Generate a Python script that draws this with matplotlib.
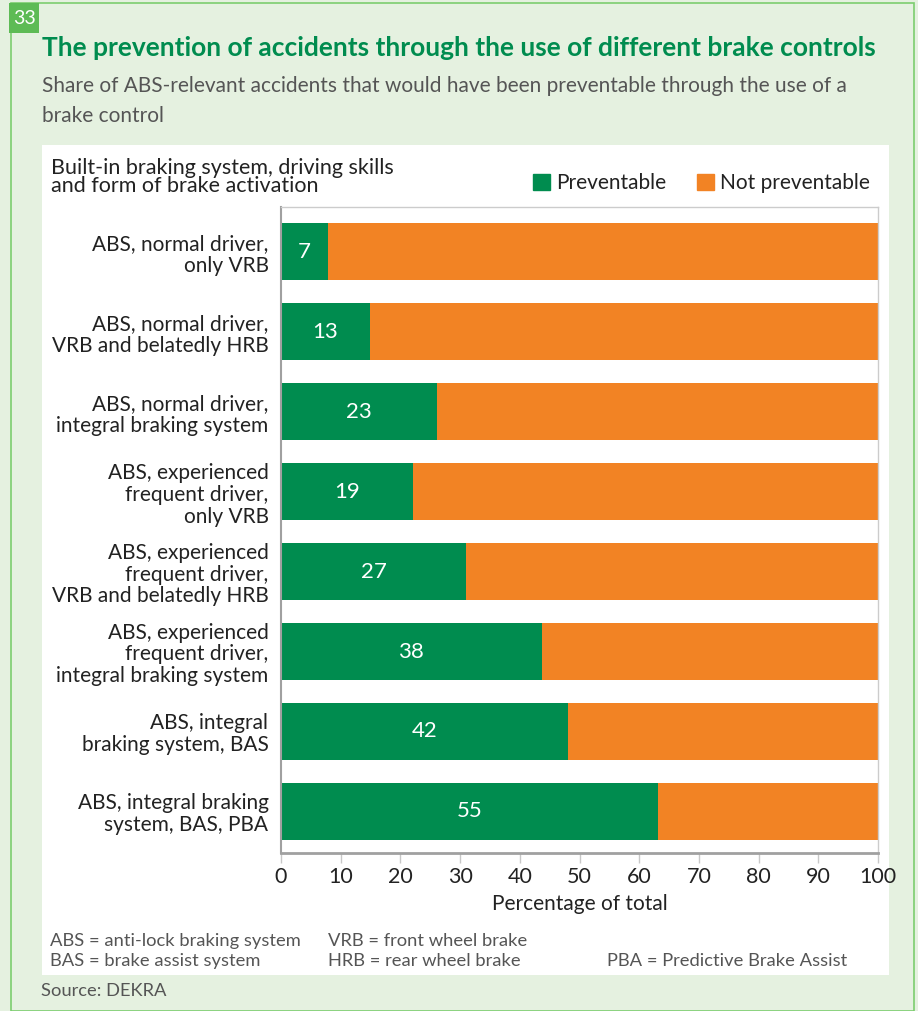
import matplotlib
matplotlib.use("Agg")
import matplotlib.pyplot as plt
import matplotlib.patches as mpatches

plt.rcParams["font.family"] = ["Lato", "DejaVu Sans"]

# ── Data ──────────────────────────────────────────────────────────────────────
categories = [
    "ABS, normal driver,\nonly VRB",
    "ABS, normal driver,\nVRB and belatedly HRB",
    "ABS, normal driver,\nintegral braking system",
    "ABS, experienced\nfrequent driver,\nonly VRB",
    "ABS, experienced\nfrequent driver,\nVRB and belatedly HRB",
    "ABS, experienced\nfrequent driver,\nintegral braking system",
    "ABS, integral\nbraking system, BAS",
    "ABS, integral braking\nsystem, BAS, PBA",
]
value_labels = [7, 13, 23, 19, 27, 38, 42, 55]
# bar lengths as drawn in the original (they run longer than the printed values)
preventable = [7.9, 14.9, 26.2, 22.1, 31.0, 43.7, 48.1, 63.1]
not_preventable = [100 - v for v in preventable]
xticks = [0, 10, 20, 30, 40, 50, 60, 70, 80, 90, 100]

GREEN = "#008c4f"
ORANGE = "#f28324"
BG = "#e5f1e0"
BORDER = "#7ccd6e"
TEXT = "#222222"
GREY = "#555555"

W, H = 918, 1011
fig = plt.figure(figsize=(W / 100, H / 100), dpi=100, facecolor=BG)


def px(x, y):
    return x / W, 1 - y / H


def frect(x0, y0, x1, y1, **kw):
    fx0, fy1 = px(x0, y1)
    fig.patches.append(mpatches.Rectangle(
        (fx0, fy1), (x1 - x0) / W, (y1 - y0) / H,
        transform=fig.transFigure, zorder=-5, **kw))


# ── Frame, white panel, number box ────────────────────────────────────────────
frect(11, 3, 914, 1011, facecolor="none", edgecolor=BORDER, linewidth=1.2)
frect(42, 145, 889, 975, facecolor="white", edgecolor="none")
frect(9, 3, 39, 33, facecolor="#5dbb55", edgecolor="none")
fig.text(*px(24, 19), "33", color="white", fontsize=14, ha="center", va="center")

fig.text(*px(42, 56), "The prevention of accidents through the use of different brake controls",
         color=GREEN, fontsize=19, fontweight="bold", va="baseline")
fig.text(*px(42, 92), "Share of ABS-relevant accidents that would have been preventable through the use of a",
         color=GREY, fontsize=15, va="baseline")
fig.text(*px(42, 122), "brake control", color=GREY, fontsize=15, va="baseline")

fig.text(*px(51, 192), "Built-in braking system, driving skills\nand form of brake activation",
         color=TEXT, fontsize=15.5, va="baseline", linespacing=0.9)

# ── Chart ─────────────────────────────────────────────────────────────────────
ax = fig.add_axes([281 / W, 1 - 853 / H, 597 / W, 646 / H])
ax.set_facecolor("white")
ypos = list(range(len(categories)))
ax.barh(ypos, preventable, height=0.71, color=GREEN, label="Preventable")
ax.barh(ypos, not_preventable, left=preventable, height=0.71, color=ORANGE,
        label="Not preventable")
for y, v, lab in zip(ypos, preventable, value_labels):
    ax.text(v / 2, y, str(lab), color="white", fontsize=16, ha="center", va="center")

ax.set_xlim(0, 100)
ax.set_ylim(7.52, -0.56)
ax.set_xticks(xticks)
ax.set_xticklabels([str(t) for t in xticks], fontsize=15.5, color=TEXT)
ax.set_yticks(ypos)
ax.set_yticklabels(categories, fontsize=15, color=TEXT, linespacing=1.12)
ax.tick_params(axis="y", length=0, pad=9)
ax.tick_params(axis="x", length=7, width=1, color="#c8c8c8", pad=3)
ax.set_xlabel("Percentage of total", fontsize=15, color=TEXT, labelpad=5)

for side in ("top", "right"):
    ax.spines[side].set_color("#cccccc")
    ax.spines[side].set_linewidth(1)
ax.spines["left"].set_color("#a0a0a0")
ax.spines["left"].set_linewidth(1.5)
ax.spines["bottom"].set_color("#a0a0a0")
ax.spines["bottom"].set_linewidth(2)

handles = [mpatches.Patch(color=GREEN, label="Preventable"),
           mpatches.Patch(color=ORANGE, label="Not preventable")]
fig.legend(handles=handles, loc="center right", bbox_to_anchor=px(870, 183),
           ncol=2, frameon=False, fontsize=15, handlelength=0.8, handleheight=0.8,
           handletextpad=0.3, columnspacing=1.5, labelcolor=TEXT, borderaxespad=0,
           borderpad=0)

# ── Footnotes ─────────────────────────────────────────────────────────────────
fn = dict(color=GREY, fontsize=13.2, va="baseline")
fig.text(*px(50, 946), "ABS = anti-lock braking system", **fn)
fig.text(*px(50, 966), "BAS = brake assist system", **fn)
fig.text(*px(328, 946), "VRB = front wheel brake", **fn)
fig.text(*px(328, 966), "HRB = rear wheel brake", **fn)
fig.text(*px(607, 966), "PBA = Predictive Brake Assist", **fn)
fig.text(*px(41, 996), "Source: DEKRA", **fn)

fig.savefig("out.png", dpi=100, facecolor=BG)
